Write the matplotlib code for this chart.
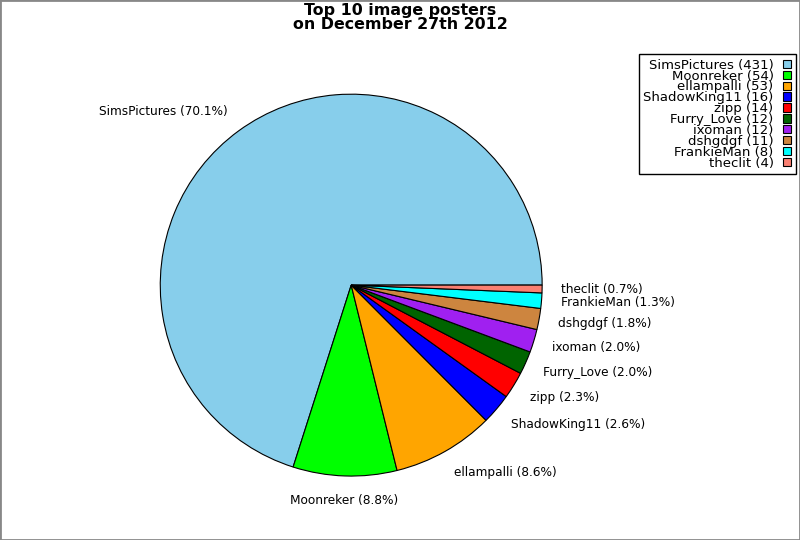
import matplotlib
matplotlib.use("Agg")
from matplotlib import pyplot as plt
from matplotlib.patches import Rectangle

# posters and their image counts
names = ["SimsPictures", "Moonreker", "ellampalli", "ShadowKing11", "zipp",
         "Furry_Love", "ixoman", "dshgdgf", "FrankieMan", "theclit"]
counts = [431, 54, 53, 16, 14, 12, 12, 11, 8, 4]
colors = ["#87CEEB", "#00FF00", "#FFA500", "#0000FF", "#FF0000",
          "#006400", "#A020F0", "#CD853F", "#00FFFF", "#FA8072"]

total = float(sum(counts))
pie_labels = ["%s (%.1f%%)" % (n, 100.0 * c / total) for n, c in zip(names, counts)]
legend_labels = ["%s (%d)" % (n, c) for n, c in zip(names, counts)]

fig = plt.figure(figsize=(8, 5.4), dpi=100)
ax = fig.add_axes([0.1405, 0.030, 0.597, 0.884])

wedges, texts = ax.pie(counts, labels=pie_labels, colors=colors, startangle=0,
                       labeldistance=1.1,
                       wedgeprops=dict(edgecolor="black", linewidth=0.8),
                       textprops=dict(fontsize=8.7))
ax.set_xlim(-1.25, 1.25)
ax.set_ylim(-1.25, 1.25)
ax.set_aspect("equal")
# labels sit a bit further out vertically, the bottom one is centred
for t in texts:
    x, y = t.get_position()
    t.set_position((x, y * 1.025))
texts[1].set_horizontalalignment("center")

fig.text(0.5, 0.995, "Top 10 image posters\non December 27th 2012",
         ha="center", va="top", fontsize=11.4, fontweight="bold", linespacing=0.92)

leg = fig.legend(wedges, legend_labels, loc="upper right",
                 bbox_to_anchor=(0.995, 0.9), borderaxespad=0,
                 markerfirst=False, fontsize=9.5, labelspacing=-0.16,
                 handlelength=0.6, handleheight=0.6, handletextpad=0.75,
                 borderpad=0.35, fancybox=False, framealpha=1)
leg.get_frame().set_edgecolor("black")
for t in leg.get_texts():
    t.set_horizontalalignment("right")
leg._legend_box.align = "right"

# grey frame round the image
fig.patches.append(Rectangle((0, 0), 1, 1, transform=fig.transFigure,
                             fill=False, edgecolor="#888888", linewidth=2))

fig.savefig("out.png", dpi=100)
